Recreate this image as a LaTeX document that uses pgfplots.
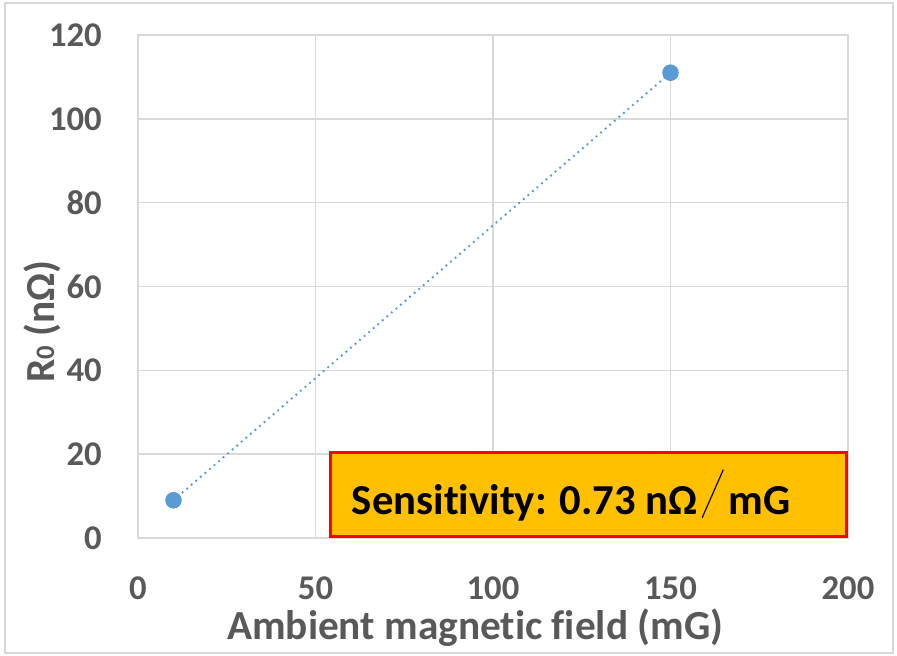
\documentclass[border=0pt]{standalone}
\usepackage{fontspec}
\setmainfont{Carlito}[Ligatures={NoCommon}]
\newfontfamily\cjk{Noto Sans CJK JP}
\usepackage{pgfplots}
\pgfplotsset{compat=1.18}
\definecolor{txt}{HTML}{595959}
\definecolor{gridc}{HTML}{D9D9D9}
\definecolor{blue1}{HTML}{5B9BD5}
\definecolor{orangec}{HTML}{FFC000}
\begin{document}
\begin{tikzpicture}[x=1pt,y=1pt]
\useasboundingbox (-103.5,-88.5) rectangle (569.25,403.5);
\draw[gridc, line width=0.8pt] (-99.75,-86.25) rectangle (566.25,401.25);
\begin{axis}[at={(0,0)}, anchor=south west, scale only axis,
  width=532.5pt, height=377.25pt,
  xmin=0, xmax=200, ymin=0, ymax=120,
  xtick={0,50,...,200}, ytick={0,20,...,120},
  grid=major, major grid style={color=gridc, line width=1.1pt},
  axis line style={draw=gridc, line width=1.1pt},
  tick style={draw=none},
  /pgf/number format/assume math mode=true,
  ticklabel style={font=\fontsize{26}{30}\selectfont\bfseries, text=txt, inner sep=0pt},
  xticklabel style={anchor=center, yshift=-37.5pt},
  yticklabel style={anchor=east, xshift=-27pt},
  xlabel={Ambient magnetic field (mG)},
  ylabel={R{\fontsize{20}{20}\selectfont 0} (nΩ)},
  label style={font=\fontsize{31}{34}\selectfont\bfseries, text=txt, inner sep=0pt},
  xlabel style={at={(axis description cs:0.475,0)}, anchor=center, yshift=-67.5pt},
  ylabel style={at={(axis description cs:0,0.43)}, anchor=center, rotate=0, yshift=72pt},
  clip=false,
]
\addplot[color=blue1, line width=2pt, dash pattern=on 0pt off 4.5pt, line cap=round,
  mark=*, mark size=5.2pt, mark options={solid, fill=blue1, draw=blue1}] coordinates {(10,9) (150,111)};
\draw[red, line width=2.25pt, fill=orangec] (axis cs:54.3,0.3) rectangle (axis cs:199.6,20.3);
\node[anchor=west, font=\fontsize{32}{36}\selectfont\bfseries, text=black, inner sep=0pt] at (axis cs:60.2,10.3) {Sensitivity: 0.73 nΩ\hspace{3pt}{\mdseries\cjk\scalebox{0.55}[1.25]{／}}\hspace{3pt}mG};
\end{axis}
\end{tikzpicture}
\end{document}
